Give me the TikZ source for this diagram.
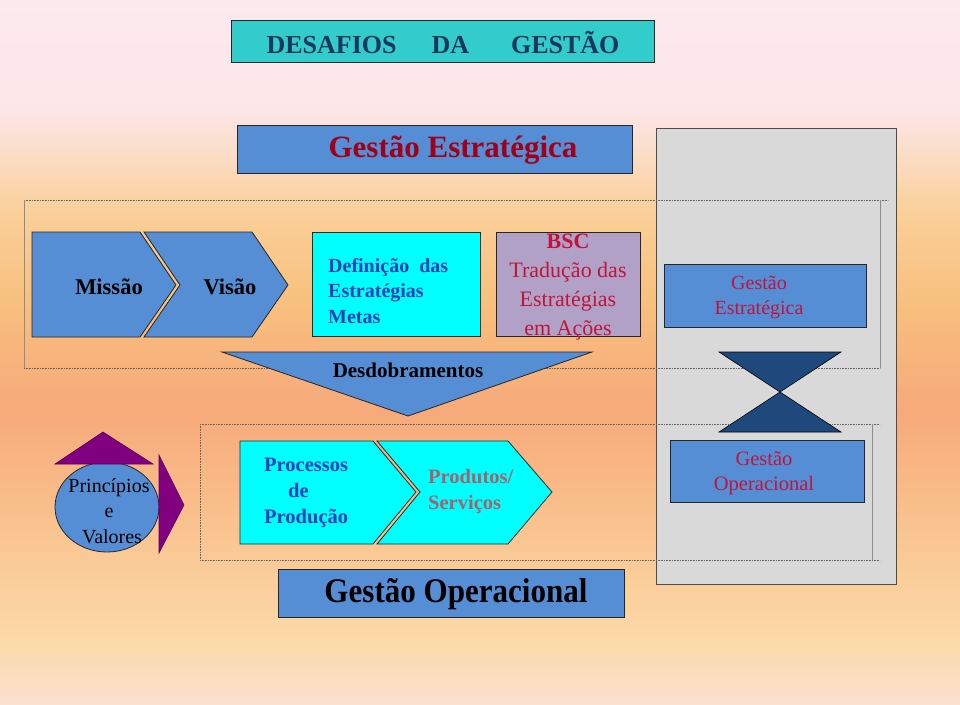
\documentclass[tikz,border=0pt]{standalone}
\usepackage{fontspec}
\setmainfont{Liberation Serif}
\newfontfamily\tallfont{Liberation Serif}[FakeStretch=0.9]
\definecolor{cblue}{RGB}{85,142,213}
\definecolor{cteal}{RGB}{51,204,204}
\definecolor{ccyan}{RGB}{0,255,255}
\definecolor{clilac}{RGB}{178,161,199}
\definecolor{cgray}{RGB}{217,217,217}
\definecolor{cnavy}{RGB}{31,73,125}
\definecolor{cpurple}{RGB}{128,0,128}
\definecolor{ctitle}{RGB}{23,55,94}
\definecolor{cdred}{RGB}{160,0,24}
\definecolor{ccrim}{RGB}{192,20,60}
\definecolor{cbtxt}{RGB}{26,63,191}
\definecolor{cbrown}{RGB}{168,96,106}
\definecolor{bg0}{RGB}{252,234,238}
\definecolor{bg1}{RGB}{252,230,232}
\definecolor{bg2}{RGB}{250,208,154}
\definecolor{bg3}{RGB}{248,192,126}
\definecolor{bg4}{RGB}{247,169,122}
\definecolor{bg5}{RGB}{249,194,142}
\definecolor{bg6}{RGB}{252,218,168}
\definecolor{bg7}{RGB}{252,224,208}
\begin{document}
\begin{tikzpicture}[x=1pt,y=-1pt,
  blu/.style={fill=cblue,draw=black!85,line width=0.8pt},
  box/.style={draw=black!85,line width=0.8pt,inner sep=0pt,anchor=north west},
  txt/.style={inner sep=0pt,font=\fontsize{21}{25}\selectfont},
  dotl/.style={draw=black!60,line width=0.7pt,dash pattern=on 0.8pt off 0.8pt},
  sidel/.style={draw=black!45,line width=0.8pt}]
\useasboundingbox (0,0) rectangle (960,704);
% background
\shade[top color=bg0,bottom color=bg1] (0,0) rectangle (960,111);
\shade[top color=bg1,bottom color=bg2] (0,110) rectangle (960,211);
\shade[top color=bg2,bottom color=bg3] (0,210) rectangle (960,301);
\shade[top color=bg3,bottom color=bg4] (0,300) rectangle (960,411);
\shade[top color=bg4,bottom color=bg5] (0,410) rectangle (960,521);
\shade[top color=bg5,bottom color=bg6] (0,520) rectangle (960,641);
\shade[top color=bg6,bottom color=bg7] (0,640) rectangle (960,704);

% gray panel
\node[box,fill=cgray,draw=black!70,minimum width=240pt,minimum height=456pt] (panel) at (656,128) {};

% dotted frames
\coordinate (f1a) at (24,200); \coordinate (f1b) at (888,200);
\coordinate (f1c) at (880,200); \coordinate (f1d) at (880,368);
\coordinate (f1e) at (24,368);
\draw[dotl] (f1a) -- (f1b);
\draw[dotl] (f1e) -- (f1d);
\draw[sidel] (f1a) -- (f1e);
\draw[sidel] (f1c) -- (f1d);
\coordinate (f2a) at (200,424); \coordinate (f2b) at (880,424);
\coordinate (f2c) at (872,424); \coordinate (f2d) at (872,560);
\coordinate (f2e) at (200,560); \coordinate (f2f) at (880,560);
\draw[dotl] (f2a) -- (f2b);
\draw[dotl] (f2e) -- (f2f);
\draw[dotl] (f2a) -- (f2e);
\draw[sidel] (f2c) -- (f2d);

% title
\node[box,fill=cteal,minimum width=423pt,minimum height=42pt] (title) at (231,20) {};
\node[inner sep=0pt,text=ctitle,font=\fontsize{26}{30}\selectfont\bfseries] (titletxt) at (443,42)
  {DESAFIOS\hspace{35pt}DA\hspace{42pt}GESTÃO};

% Gestao Estrategica header
\node[box,fill=cblue,minimum width=395pt,minimum height=48pt] (ge) at (237,125) {};
\node[inner sep=0pt,text=cdred,font=\fontsize{31}{34}\selectfont\bfseries] (getxt) at (453,150) {Gestão Estratégica};

% Missao / Visao chevrons
\draw[blu] (32,232) -- (140,232) -- (176,285) -- (140,337) -- (32,337) -- cycle;
\draw[blu] (144,232) -- (252,232) -- (288,285) -- (252,337) -- (144,337) -- (180,285) -- cycle;
\node[txt,font=\fontsize{22.5}{25}\selectfont\bfseries] (missao) at (109,287) {Missão};
\node[txt,font=\fontsize{22.5}{25}\selectfont\bfseries] (visao) at (230,287) {Visão};

% Definicao
\node[box,fill=ccyan,minimum width=168pt,minimum height=104pt] (def) at (312,232) {};
\node[txt,anchor=west,align=left,text=cbtxt,font=\fontsize{20}{25.5}\selectfont\bfseries] (deftxt) at (328,291)
  {Definição~ das\\Estratégias\\Metas};

% BSC
\node[box,fill=clilac,minimum width=144pt,minimum height=104pt] (bsc) at (496,232) {};
\node[txt,align=center,text=ccrim,font=\fontsize{22}{29}\selectfont] (bsctxt) at (568,287)
  {\textbf{BSC}\\Tradução das\\Estratégias\\em Ações};

% Desdobramentos
\draw[blu] (222,352) -- (592,352) -- (408,416) -- cycle;
\node[txt,font=\fontsize{21}{25}\selectfont\bfseries] (desd) at (408,370) {Desdobramentos};

% right panel boxes
\node[box,fill=cblue,minimum width=202pt,minimum height=63pt] (ge2) at (664,264) {};
\node[txt,align=center,text=ccrim,font=\fontsize{20}{25}\selectfont] (ge2txt) at (759,297) {Gestão\\Estratégica};
\fill[cnavy,draw=black,line width=0.6pt] (719,352) -- (841,352) -- (780,392) -- cycle;
\fill[cnavy,draw=black,line width=0.6pt] (780,392) -- (841,432) -- (719,432) -- cycle;
\node[box,fill=cblue,minimum width=194pt,minimum height=62pt] (go2) at (670,440) {};
\node[txt,align=center,text=ccrim,font=\fontsize{20.5}{25}\selectfont] (go2txt) at (764,473) {Gestão\\Operacional};

% Principios e Valores
\draw[fill=cblue,draw=black!85,line width=0.8pt] (107,507) ellipse [x radius=52,y radius=45];
\draw[fill=cpurple,draw=cpurple!70!black,line width=0.6pt] (55,464) -- (153,464) -- (103,432) -- cycle;
\draw[fill=cpurple,draw=cpurple!70!black,line width=0.6pt] (159,455) -- (184,505) -- (159,553) -- cycle;
\node[txt,align=center,font=\fontsize{20}{25.5}\selectfont] (princ) at (109,511) {Princípios\\e\\\hspace*{6pt}Valores};

% Processos / Produtos chevrons
\draw[box,fill=ccyan] (240,441) -- (373,441) -- (416,492) -- (373,544) -- (240,544) -- cycle;
\draw[box,fill=ccyan] (377,441) -- (508,441) -- (552,492) -- (508,544) -- (377,544) -- (420,492) -- cycle;
\node[txt,anchor=west,align=left,text=cbtxt,font=\fontsize{20.5}{26}\selectfont\bfseries] (proc) at (264,493)
  {Processos\\\hspace*{24pt}de\\Produção};
\node[txt,anchor=west,align=left,text=cbrown,font=\fontsize{20.5}{26}\selectfont\bfseries] (prod) at (428,491)
  {Produtos/\\Serviços};

% Gestao Operacional footer
\node[box,fill=cblue,minimum width=346pt,minimum height=48pt] (go) at (278,569) {};
\node[inner sep=0pt,font=\tallfont\fontsize{34.5}{36}\selectfont\bfseries] (gotxt) at (456,594) {Gestão Operacional};
\end{tikzpicture}
\end{document}
